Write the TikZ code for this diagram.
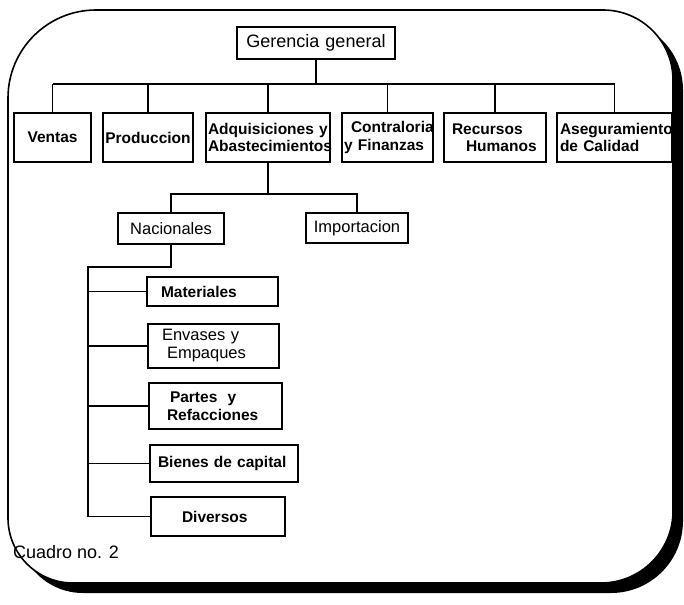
\documentclass[tikz,border=0pt]{standalone}
\usepackage{fontspec}
\setmainfont{Liberation Sans}
\begin{document}
\begin{tikzpicture}[x=1pt,y=-1pt,
  conn/.style={line width=1.1pt},
  bx/.style={draw, line width=1.1pt, inner ysep=0pt, anchor=center},
  fb/.style={font=\fontsize{15.5}{17.5}\selectfont\bfseries},
  fr/.style={font=\fontsize{16.5}{18}\selectfont}]
\useasboundingbox (0,0) rectangle (684,604);
\fill[white] (0,0) rectangle (684,604);
% frame shadow
\begin{scope}[shift={(10,10)}]
\fill[black] (8,300) [rounded corners=88pt] -- (8,10) [rounded corners=70pt] -- (673,10) [rounded corners=72pt] -- (673,583) [rounded corners=65pt] -- (8,583) -- cycle;
\end{scope}
\filldraw[fill=white, draw=black, line width=1.6pt] (8,300) [rounded corners=88pt] -- (8,10) [rounded corners=70pt] -- (673,10) [rounded corners=72pt] -- (673,583) [rounded corners=65pt] -- (8,583) -- cycle;

% nodes
\node[bx, font=\fontsize{18}{20}\selectfont, minimum width=158pt, minimum height=32pt, inner xsep=0pt, text width=158pt, align=center] (ger) at (316,43) {Gerencia general};

\node[bx, fb, minimum width=77pt, minimum height=49pt, inner xsep=0pt, text width=77pt, align=center] (ventas) at (52.5,137.5) {Ventas};
\node[bx, fb, minimum width=90pt, minimum height=49pt, inner xsep=0pt, text width=90pt, align=center] (prod) at (148,137.5) {Produccion};
\node[bx, fb, minimum height=49pt, inner xsep=2pt, text width=120pt, align=left] (adq) at (268,137.5) {\mbox{Adquisiciones y}\\\mbox{Abastecimientos}};
\node[bx, fb, minimum height=49pt, inner xsep=2pt, text width=87pt, align=left] (contra) at (387.5,137.5) {\hspace*{7pt}\mbox{Contraloria}\\\mbox{y Finanzas}};
\node[bx, fb, minimum height=49pt, inner xsep=8pt, text width=86pt, align=left] (recur) at (495,137.5) {\mbox{Recursos}\\\hspace*{14pt}\mbox{Humanos}};
\node[bx, fb, minimum height=49pt, inner xsep=3pt, text width=109pt, align=left] (aseg) at (614.5,137.5) {\mbox{Aseguramiento}\\\mbox{de Calidad}};

\node[bx, fr, minimum width=106pt, minimum height=31pt, inner xsep=0pt, text width=106pt, align=center] (nac) at (171,228.5) {Nacionales};
\node[bx, fr, minimum width=102pt, minimum height=30pt, inner xsep=0pt, text width=102pt, align=center] (imp) at (357,228) {Importacion};

\node[bx, fb, minimum height=29pt, inner xsep=14pt, text width=103pt, align=left] (mat) at (212.5,291.5) {Materiales};
\node[bx, fr, minimum height=44pt, inner xsep=14pt, text width=103pt, align=left] (env) at (213.5,346) {\mbox{Envases y}\\\hspace*{5pt}\mbox{Empaques}};
\node[bx, fb, minimum height=46pt, inner xsep=18pt, text width=97pt, align=left] (partes) at (215.5,406) {\hspace*{3pt}\mbox{Partes~~y}\\\mbox{Refacciones}};
\node[bx, fb, minimum height=37pt, inner xsep=8pt, text width=132pt, align=left] (bienes) at (224,463.5) {\mbox{Bienes de capital}};
\node[bx, fb, minimum height=39pt, inner xsep=31pt, text width=72pt, align=left] (div) at (218,516.5) {Diversos};

\node[anchor=base west, inner sep=0pt, font=\fontsize{18}{20}\selectfont] (cuadro) at (13,558) {Cuadro no. 2};

% connectors
\coordinate (bus) at (0,84);
\coordinate (bus2) at (0,194);
\coordinate (bus3) at (88,267);
\draw[conn] (ger.south) -- (ger.south |- bus);
\draw[conn] (ventas.north |- bus) -- (aseg.north |- bus);
\foreach \n in {ventas,prod,adq,contra,recur,aseg}
  \draw[conn] (\n.north |- bus) -- (\n.north);
\draw[conn] (adq.south) -- (adq.south |- bus2);
\draw[conn] (nac.north) -- (nac.north |- bus2) -- (imp.north |- bus2) -- (imp.north);
\draw[conn] (nac.south) -- (nac.south |- bus3) -- (bus3) -- (bus3 |- div.west);
\foreach \n in {mat,env,partes,bienes,div}
  \draw[conn] (bus3 |- \n.west) -- (\n.west);
\end{tikzpicture}
\end{document}
